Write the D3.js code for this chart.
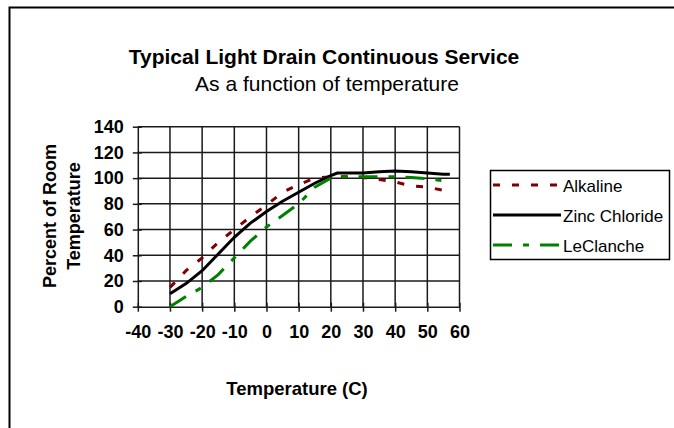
<!DOCTYPE html>
<html>
<head>
<meta charset="utf-8">
<script src="https://cdn.jsdelivr.net/npm/d3@7"></script>
<style>
  body { margin: 0; background: #fff; }
  svg { display: block; font-family: Arial, 'Liberation Sans', sans-serif; }
</style>
</head>
<body>
<svg id="chart" width="674" height="428"></svg>
<script>
// temperatures (C) where the curves were read
const temps = [-30, -25, -20, -15, -10, -5, 0, 5, 10, 15, 20, 22, 25, 30, 35, 40, 45, 50, 55, 57]
const alkaline = [15, 28, 38, 50, 60, 70, 79, 89, 95, 100, 101, 101, 101, 100.5, 99, 97, 94, 93, 90.5, 90]
const zincChloride = [10, 18, 28, 41, 54, 65, 74, 82, 89, 96, 102, 104, 104, 104, 105, 105.5, 105, 104, 103, 103]
const leClanche = [0, 8, 15, 25, 38, 51, 62, 71, 80, 93, 100, 101, 101, 101, 101, 101, 100.5, 99.5, 98, 98]
const xTicks = [-40, -30, -20, -10, 0, 10, 20, 30, 40, 50, 60]
const yTicks = [0, 20, 40, 60, 80, 100, 120, 140]

const series = [
  {name: 'Alkaline', values: alkaline, color: '#800000', dash: '7,12'},
  {name: 'Zinc Chloride', values: zincChloride, color: '#000000', dash: null},
  {name: 'LeClanche', values: leClanche, color: '#008000', dash: '19,11,6,11'}
]

const tickFont = "'Liberation Sans Narrow', 'Arial Narrow', Arial, sans-serif"

const svg = d3.select('#chart')

// outer frame (runs off the right/bottom edge like the original)
svg.append('rect')
  .attr('x', 9.5).attr('y', 7.5)
  .attr('width', 700).attr('height', 450)
  .attr('fill', 'none').attr('stroke', '#000').attr('stroke-width', 2)

svg.append('text')
  .attr('x', 324).attr('y', 64)
  .attr('text-anchor', 'middle')
  .style('font-size', '21px').style('font-weight', 'bold')
  .text('Typical Light Drain Continuous Service')
svg.append('text')
  .attr('x', 327).attr('y', 91)
  .attr('text-anchor', 'middle')
  .style('font-size', '21px')
  .text('As a function of temperature')

const x = d3.scaleLinear().domain([-40, 60]).range([137.8, 459.5])
const y = d3.scaleLinear().domain([0, 140]).range([306.7, 126.7])

// grid
const grid = svg.append('g').attr('stroke', '#1a1a1a').attr('stroke-width', 1.5)
grid.selectAll('.vx').data(xTicks.slice(1)).enter().append('line')
  .attr('x1', d => x(d)).attr('x2', d => x(d))
  .attr('y1', y(0)).attr('y2', y(140))
grid.selectAll('.hy').data(yTicks.slice(1)).enter().append('line')
  .attr('x1', x(-40)).attr('x2', x(60))
  .attr('y1', d => y(d)).attr('y2', d => y(d))

// axes
const xAxis = svg.append('g')
  .attr('transform', 'translate(0,' + y(0) + ')')
  .call(d3.axisBottom(x).tickValues(xTicks).tickSizeOuter(0).tickFormat(d => String(d)))
xAxis.select('.domain').attr('stroke', '#1a1a1a').attr('stroke-width', 1.5)
xAxis.selectAll('.tick line').attr('y1', -4).attr('y2', 5).attr('stroke', '#1a1a1a').attr('stroke-width', 1.5)
xAxis.selectAll('.tick text')
  .attr('y', 19).attr('fill', '#000')
  .style('font-size', '18px').style('font-weight', 'bold')
  .style('font-family', tickFont)

const yAxis = svg.append('g')
  .attr('transform', 'translate(' + x(-40) + ',0)')
  .call(d3.axisLeft(y).tickValues(yTicks).tickSizeOuter(0).tickFormat(d => String(d)))
yAxis.select('.domain').attr('stroke', '#1a1a1a').attr('stroke-width', 1.5)
yAxis.selectAll('.tick line').attr('x1', -5).attr('x2', 4).attr('stroke', '#1a1a1a').attr('stroke-width', 1.5)
yAxis.selectAll('.tick text')
  .attr('x', -14).attr('fill', '#000')
  .style('font-size', '18px').style('font-weight', 'bold')
  .style('font-family', tickFont)

// axis titles
const yTitle = svg.append('text')
  .attr('transform', 'translate(56,216) rotate(-90)')
  .attr('text-anchor', 'middle')
  .style('font-size', '18px').style('font-weight', 'bold')
yTitle.append('tspan').attr('x', 0).attr('y', 0).text('Percent of Room')
yTitle.append('tspan').attr('x', 0).attr('y', 24).text('Temperature')

svg.append('text')
  .attr('x', 297).attr('y', 395)
  .attr('text-anchor', 'middle')
  .style('font-size', '18.5px').style('font-weight', 'bold')
  .text('Temperature (C)')

// series lines
const line = d3.line()
  .x((d, i) => x(temps[i]))
  .y(d => y(d))
svg.selectAll('.series').data(series).enter().append('path')
  .attr('d', d => line(d.values))
  .attr('fill', 'none')
  .attr('stroke', d => d.color)
  .attr('stroke-width', 3)
  .attr('stroke-dasharray', d => d.dash)

// legend
const legend = svg.append('g')
legend.append('rect')
  .attr('x', 490.5).attr('y', 170.5)
  .attr('width', 179).attr('height', 89)
  .attr('fill', '#fff').attr('stroke', '#000').attr('stroke-width', 1.5)
const rows = legend.selectAll('.row').data(series).enter().append('g')
  .attr('transform', (d, i) => 'translate(0,' + (185 + i * 30) + ')')
rows.append('line')
  .attr('x1', 493).attr('x2', 561)
  .attr('stroke', d => d.color).attr('stroke-width', 3)
  .attr('stroke-dasharray', d => d.dash)
rows.append('text')
  .attr('x', 563).attr('y', 7)
  .style('font-size', '17px')
  .text(d => d.name)
</script>
</body>
</html>
